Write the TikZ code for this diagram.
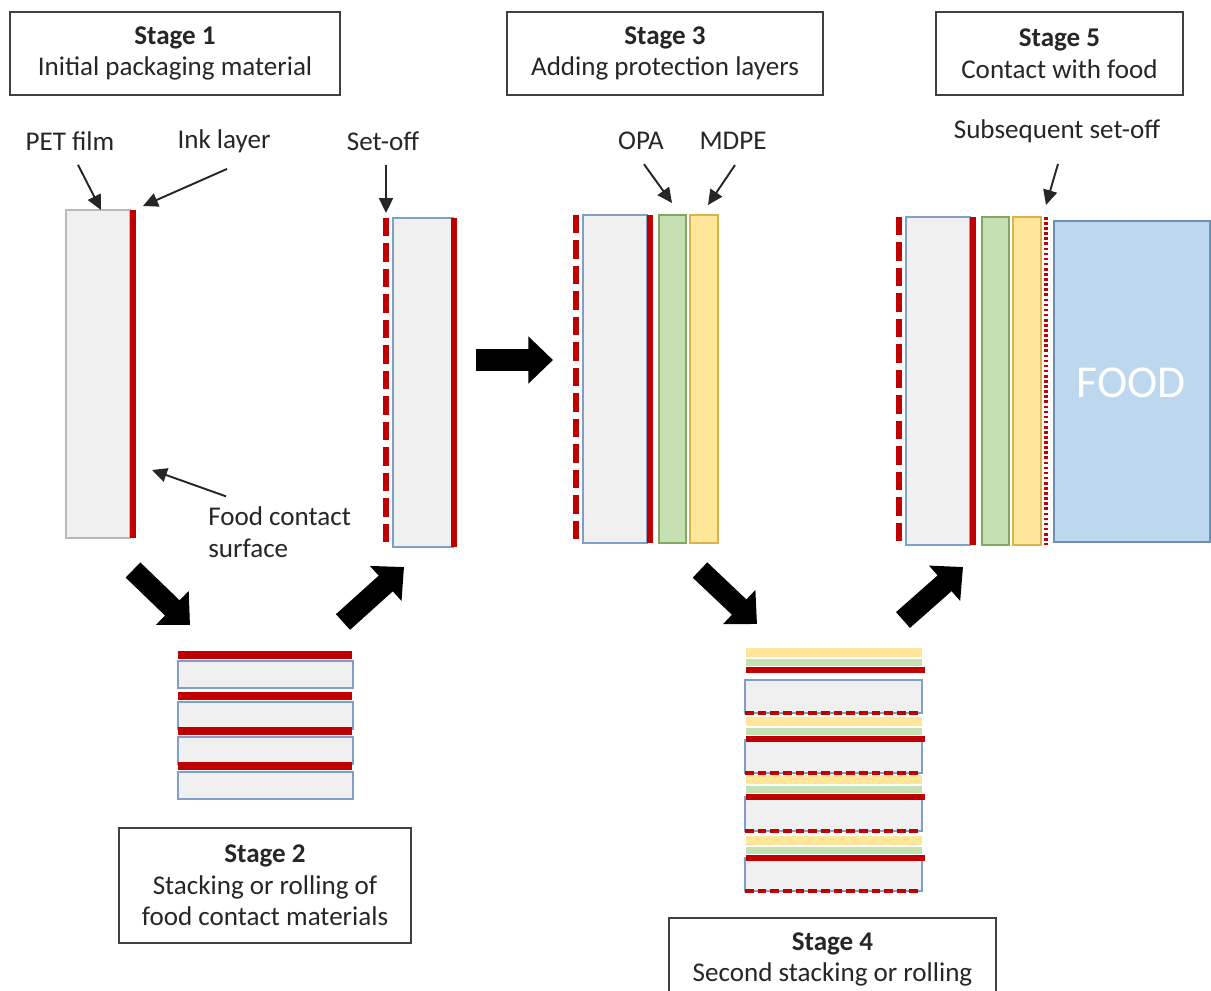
\documentclass[tikz,border=0pt]{standalone}
\usepackage{fontspec}
\setmainfont{Carlito}
\usepackage{tikz}
\usetikzlibrary{arrows.meta}

\definecolor{inkred}{HTML}{C00000}
\definecolor{petgray}{HTML}{F0F0F0}
\definecolor{petblue}{HTML}{7F9FC8}
\definecolor{opafill}{HTML}{C6E0B4}
\definecolor{opadraw}{HTML}{7FA860}
\definecolor{mdpefill}{HTML}{FFE699}
\definecolor{mdpedraw}{HTML}{D9B24A}
\definecolor{foodfill}{HTML}{BDD7EE}
\definecolor{fooddraw}{HTML}{6F8FB5}
\definecolor{txt}{HTML}{262626}

\tikzset{
  stagebox/.style={draw=black!75,line width=0.85pt,align=center,text=txt,
    font=\fontsize{15.4}{18}\selectfont,inner sep=0pt,minimum height=1.66cm},
  lbl/.style={text=txt,font=\fontsize{15.4}{18}\selectfont,inner sep=0pt},
  thinarrow/.style={black!85,line width=1.1pt,-{Triangle[length=8.5pt,width=8pt]}},
  bigarrow/.style={black,line width=12pt,-{Triangle[length=14pt,width=26pt]}},
  ink/.style={inkred,line width=3.3pt},
  setoff/.style={inkred,line width=3.6pt,dash pattern=on 10.5pt off 4pt},
  setoffh/.style={inkred,line width=2.3pt,dash pattern=on 5pt off 2.2pt},
  pet/.style={fill=petgray,draw=petblue,line width=0.7pt},
}

\begin{document}
\begin{tikzpicture}[x=0.02cm,y=-0.02cm]
      \clip (0,0) rectangle (1211,991);

      %Stage 1
      \node[stagebox,minimum width=6.6cm] (s1) at (175,53.5) {\textbf{Stage 1}\\Initial packaging material};
      \filldraw[fill=petgray,draw=gray!55,line width=0.7pt] (66,210) rectangle (130,538);
      \draw[ink] (133,210) -- (133,538);
      \coordinate (petend) at (101,210);
      \coordinate (inkend) at (143,206);
      \coordinate (fcsend) at (152,470);
      \node[lbl] (petlbl) at (70,141) {PET film};
      \node[lbl] (inklbl) at (224,141) {Ink layer};
      \node[lbl,align=left,anchor=west] (fcslbl) at (208,532) {Food contact\\surface};
      \draw[thinarrow] ([shift={(8,14)}]petlbl.south) -- (petend);
      \draw[thinarrow] ([shift={(3,16)}]inklbl.south) -- (inkend);
      \draw[thinarrow] ([shift={(18,-10)}]fcslbl.north west) -- (fcsend);

      %set-off film
      \draw[setoff] (386,218) -- (386,547);
      \filldraw[pet] (393,218) rectangle (453,547);
      \draw[ink] (454,218) -- (454,547);
      \coordinate (setend) at (386,213);
      \node[lbl] (setlbl) at (383,141) {Set-off};
      \draw[thinarrow] ([shift={(3,14)}]setlbl.south) -- (setend);

      %Stage 2
      \foreach \y in {661,702,737,772}  {
      	\filldraw[pet] (178,\y) rectangle (353,\y+27);
      	\draw[inkred,line width=4pt] (178,\y-6) -- (352,\y-6);
      }
      \node[stagebox,minimum width=5.84cm,minimum height=2.3cm] (s2) at (265,885.5) {\textbf{Stage 2}\\Stacking or rolling of\\food contact materials};

      %Stage 3 und Stage 5
      \foreach \x/\d in {576/0,899/2}  {
      	\draw[setoff] (\x,215+\d) -- (\x,543+\d);
      	\filldraw[pet] (\x+7,215+\d) rectangle (\x+71,543+\d);
      	\draw[ink] (\x+74,215+\d) -- (\x+74,543+\d);
      	\filldraw[fill=opafill,draw=opadraw,line width=0.7pt] (\x+83,215+\d) rectangle (\x+110,543+\d);
      	\filldraw[fill=mdpefill,draw=mdpedraw,line width=0.7pt] (\x+114,215+\d) rectangle (\x+142,543+\d);
      }
      \node[stagebox,minimum width=6.32cm] (s3) at (665,53.5) {\textbf{Stage 3}\\Adding protection layers};
      \coordinate (opaend) at (672,203);
      \coordinate (mdpeend) at (708,205);
      \node[lbl] (opalbl) at (641,141) {OPA};
      \node[lbl] (mdpelbl) at (733,141) {MDPE};
      \draw[thinarrow] ([shift={(3,14)}]opalbl.south) -- (opaend);
      \draw[thinarrow] ([shift={(2,15)}]mdpelbl.south) -- (mdpeend);

      %Stage 4
      \foreach \r/\y/\h in {670/680/33,739/740/33,797/797/34,858/858/33}  {
      	\fill[mdpefill] (746,\r-22) rectangle (922,\r-13);
      	\fill[opafill] (746,\r-11) rectangle (922,\r-4);
      	\filldraw[pet] (745,\y) rectangle (922,\y+\h);
      	\draw[inkred,line width=3.2pt] (746,\r) -- (925,\r);
      	\draw[setoffh] (745,\y+\h) -- (922,\y+\h);
      }
      \node[stagebox,minimum width=6.54cm] (s4) at (832.5,959.5) {\textbf{Stage 4}\\Second stacking or rolling};

      %Stage 5
      \draw[inkred,line width=2pt,dash pattern=on 1.5pt off 1.4pt] (1046,217) -- (1046,545);
      \filldraw[fill=foodfill,draw=fooddraw,line width=0.8pt] (1054,221) rectangle (1210,542);
      \node[text=white,font=\fontsize{26}{30}\selectfont,inner sep=0pt] (food) at (1131,383) {FOOD};
      \node[stagebox,minimum width=4.94cm] (s5) at (1059.5,53.5) {\textbf{Stage 5}\\Contact with food};
      \coordinate (subend) at (1046,205);
      \node[lbl] (sublbl) at (1057,131) {Subsequent set-off};
      \draw[thinarrow] ([shift={(1,21)}]sublbl.south) -- (subend);

      %big arrows
      \coordinate (a1) at (133,570);  \coordinate (b1) at (190,625);
      \coordinate (a2) at (343,622);  \coordinate (b2) at (404,567);
      \coordinate (a3) at (476,360);  \coordinate (b3) at (553,360);
      \coordinate (a4) at (700,570);  \coordinate (b4) at (757,624);
      \coordinate (a5) at (903,620);  \coordinate (b5) at (963,567);
      \foreach \i in {1,...,5}  {
      	\draw[bigarrow] (a\i) -- (b\i);
      }

\end{tikzpicture}
\end{document}
